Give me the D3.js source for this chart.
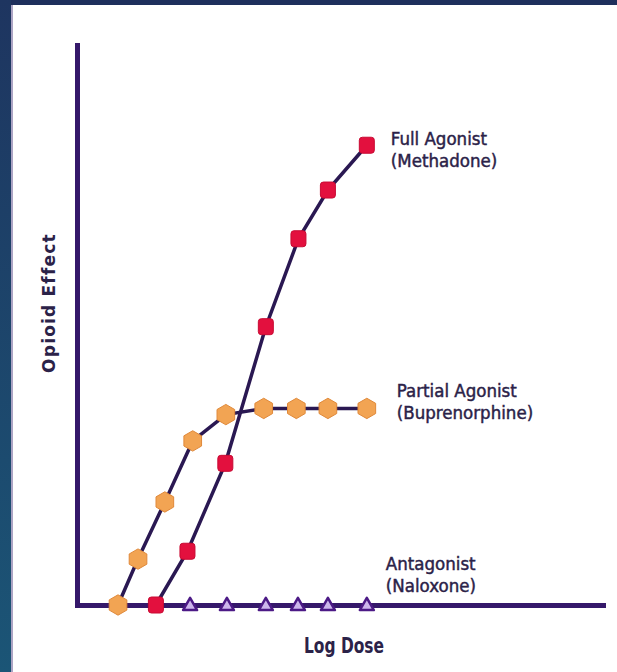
<!DOCTYPE html>
<html>
<head>
<meta charset="utf-8">
<script src="https://cdn.jsdelivr.net/npm/d3@7"></script>
<style>
  html, body { margin: 0; padding: 0; background: #fff; }
  svg { display: block; }
</style>
</head>
<body>
<svg id="chart"></svg>
<script>
// log dose (arbitrary units) and opioid effect (% of max)
const partialDose = [0.78, 1.16, 1.67, 2.2, 2.83, 3.55, 4.17, 4.77, 5.51];
const partialEffect = [0, 8.2, 18.4, 29.3, 34.0, 35.1, 35.1, 35.1, 35.1];
const fullDose = [1.5, 2.1, 2.82, 3.59, 4.21, 4.77, 5.51];
const fullEffect = [0, 9.6, 25.3, 49.7, 65.4, 74.1, 82.1];
const antagDose = [2.15, 2.85, 3.59, 4.2, 4.77, 5.51];
const antagEffect = [0, 0, 0, 0, 0, 0];
const seriesLabels = [
  ['Full Agonist', '(Methadone)'],
  ['Partial Agonist', '(Buprenorphine)'],
  ['Antagonist', '(Naloxone)']
];
const xTitle = 'Log Dose';
const yTitle = 'Opioid Effect';

(function() {
  const W = 617, H = 672,
    plot = { l: 77, r: 603, t: 45, b: 605 };
  const $svg = d3.select('#chart').attr('width', W).attr('height', H);

  const xScale = d3.scaleLinear().domain([0, 10]).range([plot.l, plot.r]),
    yScale = d3.scaleLinear().domain([0, 100]).range([plot.b, plot.t]);

  // dark frame of the slide
  $svg.append('rect').attr('x', 0).attr('y', 0).attr('width', W).attr('height', 5).attr('fill', '#1e2f5c');
  const grad = $svg.append('defs').append('linearGradient')
    .attr('id', 'sideGrad').attr('x1', 0).attr('y1', 0).attr('x2', 0).attr('y2', 1);
  grad.append('stop').attr('offset', '0%').attr('stop-color', '#1e3560');
  grad.append('stop').attr('offset', '100%').attr('stop-color', '#1b5576');
  $svg.append('rect').attr('x', 0).attr('y', 0).attr('width', 11).attr('height', H).attr('fill', 'url(#sideGrad)');
  $svg.append('rect').attr('x', 11).attr('y', 5).attr('width', 2).attr('height', H).attr('fill', '#5a4a8a').attr('opacity', 0.5);

  const lineColor = '#2a1852',
    axisColor = '#35186a',
    textColor = '#2b2248';

  const toPoints = (xs, ys) => xs.map((d, i) => [d, ys[i]]);
  const partial = toPoints(partialDose, partialEffect),
    full = toPoints(fullDose, fullEffect),
    antag = toPoints(antagDose, antagEffect);

  const line = d3.line().x((d) => xScale(d[0])).y((d) => yScale(d[1]));

  $svg.append('path').datum(partial).attr('d', line)
    .attr('fill', 'none').attr('stroke', lineColor).attr('stroke-width', 3.5);
  $svg.append('path').datum(full).attr('d', line)
    .attr('fill', 'none').attr('stroke', lineColor).attr('stroke-width', 3.5);

  // axes without ticks
  $svg.append('g')
    .attr('transform', 'translate(0,' + plot.b + ')')
    .call(d3.axisBottom(xScale).tickValues([]).tickSizeOuter(0))
    .select('.domain').attr('stroke', axisColor).attr('stroke-width', 5).attr('stroke-linecap', 'square');
  $svg.append('g')
    .attr('transform', 'translate(' + plot.l + ',0)')
    .call(d3.axisLeft(yScale).tickValues([]).tickSizeOuter(0))
    .select('.domain').attr('stroke', axisColor).attr('stroke-width', 5).attr('stroke-linecap', 'square');

  // hexagon symbol
  const hexagon = {
    draw(context, size) {
      const r = Math.sqrt(size / (1.5 * Math.sqrt(3)));
      for (let i = 0; i < 6; i++) {
        const a = Math.PI / 3 * i - Math.PI / 2;
        if (i === 0) context.moveTo(r * Math.cos(a), r * Math.sin(a));
        else context.lineTo(r * Math.cos(a), r * Math.sin(a));
      }
      context.closePath();
    }
  };

  $svg.append('g').selectAll('path')
    .data(partial).enter().append('path')
    .attr('transform', (d) => 'translate(' + xScale(d[0]) + ',' + yScale(d[1]) + ')')
    .attr('d', d3.symbol().type(hexagon).size(270))
    .attr('fill', '#f2a453').attr('stroke', '#e0893a').attr('stroke-width', 1)
    .attr('stroke-linejoin', 'round');

  $svg.append('g').selectAll('rect')
    .data(full).enter().append('rect')
    .attr('x', (d) => xScale(d[0]) - 7.5)
    .attr('y', (d) => yScale(d[1]) - 8)
    .attr('width', 15).attr('height', 16).attr('rx', 3)
    .attr('fill', '#e3103e').attr('stroke', '#c80a33').attr('stroke-width', 1);

  $svg.append('g').selectAll('path')
    .data(antag).enter().append('path')
    .attr('transform', (d) => 'translate(' + xScale(d[0]) + ',' + (yScale(d[1]) + 1) + ')')
    .attr('d', d3.symbol().type(d3.symbolTriangle).size(85))
    .attr('fill', '#cdb6ec').attr('stroke', '#4c1a86').attr('stroke-width', 2.5)
    .attr('stroke-linejoin', 'round');

  // series labels placed beside the last point of each series
  const labelFont = '"DejaVu Sans Condensed", "DejaVu Sans", sans-serif';
  const labelPos = [
    [xScale(fullDose[fullDose.length - 1]) + 24, 145],
    [xScale(partialDose[partialDose.length - 1]) + 30, 397],
    [xScale(antagDose[antagDose.length - 1]) + 19, 570]
  ];
  seriesLabels.forEach((lines, i) => {
    const t = $svg.append('text')
      .attr('x', labelPos[i][0]).attr('y', labelPos[i][1])
      .attr('font-family', labelFont).attr('font-size', 18.5)
      .attr('fill', textColor)
      .attr('stroke', textColor).attr('stroke-width', 0.45);
    lines.forEach((s, j) => {
      t.append('tspan').attr('x', labelPos[i][0]).attr('dy', j === 0 ? 0 : 22).text(s);
    });
  });

  $svg.append('text')
    .text(xTitle)
    .attr('text-anchor', 'middle')
    .attr('font-family', labelFont).attr('font-weight', 'bold').attr('font-size', 21)
    .attr('textLength', 80).attr('lengthAdjust', 'spacingAndGlyphs')
    .attr('fill', textColor)
    .attr('x', 344).attr('y', 653);

  $svg.append('text')
    .text(yTitle)
    .attr('text-anchor', 'middle')
    .attr('font-family', '"DejaVu Sans", sans-serif').attr('font-weight', 'bold').attr('font-size', 17)
    .attr('letter-spacing', 1.2)
    .attr('fill', textColor)
    .attr('transform', 'translate(55, 303) rotate(-90)');
})();
</script>
</body>
</html>
